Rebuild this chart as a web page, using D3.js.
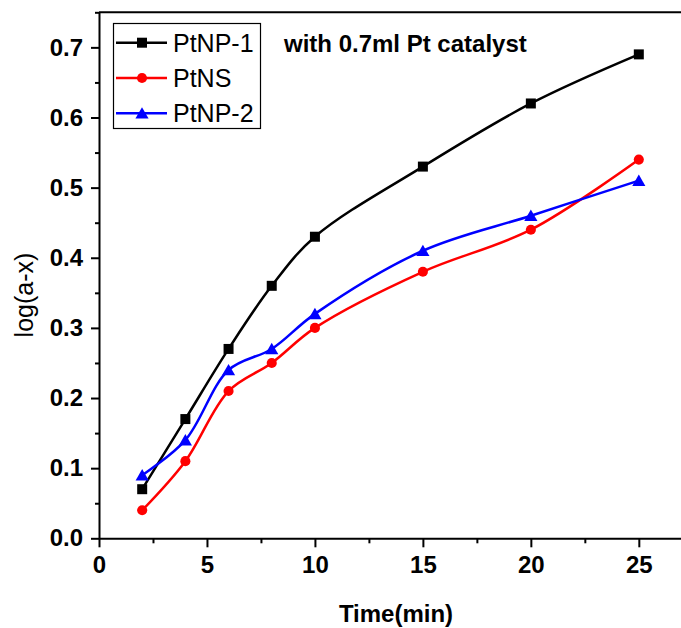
<!DOCTYPE html>
<html><head><meta charset="utf-8">
<script src="https://cdn.jsdelivr.net/npm/d3@7/dist/d3.min.js"></script>
<style>html,body{margin:0;padding:0;background:#fff;}svg{display:block;}</style>
</head><body>
<svg id="chart" width="681" height="628"></svg>
<script>
const times = [2, 4, 6, 8, 10, 15, 20, 25];
const ptnp1 = [0.07, 0.17, 0.27, 0.36, 0.43, 0.53, 0.62, 0.69];
const ptns  = [0.04, 0.11, 0.21, 0.25, 0.30, 0.38, 0.44, 0.54];
const ptnp2 = [0.09, 0.14, 0.24, 0.27, 0.32, 0.41, 0.46, 0.51];
const seriesNames = ["PtNP-1", "PtNS", "PtNP-2"];
const xTicks = [0, 5, 10, 15, 20, 25];
const yTicks = [0.0, 0.1, 0.2, 0.3, 0.4, 0.5, 0.6, 0.7];
const annotation = "with 0.7ml Pt catalyst";

const svg = d3.select("#chart");
const L = 99, R = 682, T = 12.3, B = 538.3;
const x = d3.scaleLinear().domain([0, 27]).range([L, R]);
const y = d3.scaleLinear().domain([0, 0.75]).range([B, T]);

const series = [
  {name: seriesNames[0], vals: ptnp1, color: "#000000", shape: "square"},
  {name: seriesNames[1], vals: ptns,  color: "#ff0000", shape: "circle"},
  {name: seriesNames[2], vals: ptnp2, color: "#0000ff", shape: "triangle"}
];
const sym = {square: d3.symbolSquare, circle: d3.symbolCircle, triangle: d3.symbolTriangle};
const symSize = {square: 100, circle: 80, triangle: 75};

// axes
const xMinor = d3.range(0, 27.01, 2.5).filter(v => v % 5 !== 0);
const yMinor = d3.range(0.05, 0.76, 0.1);

const gx = svg.append("g").attr("transform", `translate(0,${B})`)
  .call(d3.axisBottom(x).tickValues(xTicks).tickFormat(d3.format("d")).tickSizeInner(9).tickSizeOuter(0).tickPadding(9));
svg.append("g").attr("transform", `translate(0,${B})`)
  .call(d3.axisBottom(x).tickValues(xMinor).tickFormat("").tickSizeInner(5).tickSizeOuter(0))
  .select(".domain").remove();
const gy = svg.append("g").attr("transform", `translate(${L},0)`)
  .call(d3.axisLeft(y).tickValues(yTicks).tickFormat(d3.format(".1f")).tickSizeInner(8).tickSizeOuter(0).tickPadding(8));
svg.append("g").attr("transform", `translate(${L},0)`)
  .call(d3.axisLeft(y).tickValues(yMinor).tickFormat("").tickSizeInner(4).tickSizeOuter(0))
  .select(".domain").remove();

svg.selectAll(".domain").attr("stroke", "#000").attr("stroke-width", 2);
svg.selectAll(".tick line").attr("stroke", "#000").attr("stroke-width", 2);
svg.selectAll(".tick text").attr("fill", "#000")
  .style("font-family", "'Liberation Sans', Arial, sans-serif")
  .style("font-weight", "bold").style("font-size", "24px");
gx.selectAll(".tick text").attr("dy", "0.71em");

// top frame line
svg.append("line").attr("x1", L).attr("x2", 681).attr("y1", T).attr("y2", T)
  .attr("stroke", "#000").attr("stroke-width", 2);

// axis titles
svg.append("text").attr("x", 396).attr("y", 622).attr("text-anchor", "middle")
  .style("font-family", "'Liberation Sans', Arial, sans-serif").style("font-weight", "bold").style("font-size", "24px")
  .text("Time(min)");
svg.append("text").attr("transform", "translate(33,295) rotate(-90)").attr("text-anchor", "middle")
  .style("font-family", "'Liberation Sans', Arial, sans-serif").style("font-size", "25px")
  .text("log(a-x)");

// lines
const line = d3.line().x(d => x(d[0])).y(d => y(d[1])).curve(d3.curveCatmullRom.alpha(0.5));
series.forEach(s => {
  const pts = times.map((t, i) => [t, s.vals[i]]);
  svg.append("path").attr("d", line(pts)).attr("fill", "none")
    .attr("stroke", s.color).attr("stroke-width", 2.5);
  svg.append("g").selectAll("path").data(pts).join("path")
    .attr("transform", d => `translate(${x(d[0])},${y(d[1]) + (s.shape === "triangle" ? 1.5 : 0)})`)
    .attr("d", d3.symbol().type(sym[s.shape]).size(symSize[s.shape]))
    .attr("fill", s.color);
});

// legend
const lg = svg.append("g");
lg.append("rect").attr("x", 113.5).attr("y", 23.5).attr("width", 147).attr("height", 105)
  .attr("fill", "#fff").attr("stroke", "#000").attr("stroke-width", 1.2);
series.forEach((s, i) => {
  const cy = 42.7 + i * 35.3;
  lg.append("line").attr("x1", 116).attr("x2", 167).attr("y1", cy).attr("y2", cy)
    .attr("stroke", s.color).attr("stroke-width", 2.5);
  lg.append("path").attr("transform", `translate(142,${cy + (s.shape === "triangle" ? 1.5 : 0)})`)
    .attr("d", d3.symbol().type(sym[s.shape]).size(symSize[s.shape])).attr("fill", s.color);
  lg.append("text").attr("x", 173).attr("y", cy + 9)
    .style("font-family", "'Liberation Sans', Arial, sans-serif").style("font-size", "25px")
    .attr("fill", "#000").text(s.name);
});

svg.append("text").attr("x", 284).attr("y", 52)
  .style("font-family", "'Liberation Sans', Arial, sans-serif").style("font-weight", "bold").style("font-size", "24px")
  .text(annotation);
</script>
</body></html>
